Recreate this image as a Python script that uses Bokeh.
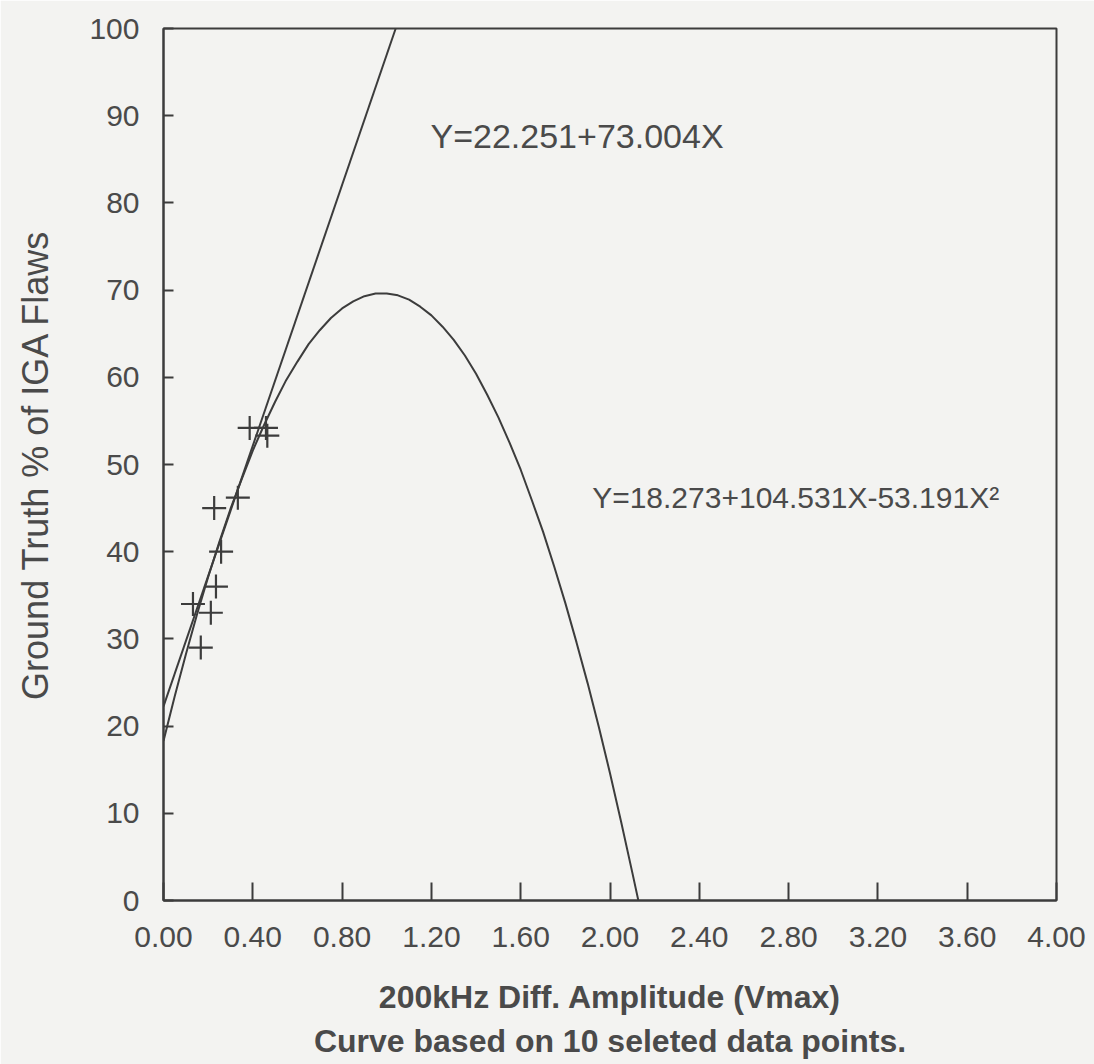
from bokeh.plotting import figure
from bokeh.models import Range1d, FixedTicker, Label, Title, NumeralTickFormatter
from bokeh.embed import file_html
from bokeh.resources import INLINE

# ---- data ----
pts_x = [0.386, 0.459, 0.465, 0.333, 0.227, 0.258, 0.235, 0.132, 0.212, 0.167]
pts_y = [54.2, 54.2, 53.3, 46.2, 45.0, 40.0, 36.0, 34.0, 33.0, 29.0]

lin_x = [0.0, 1.04]
lin_y = [22.25, 100.0]

quad_x = [0.0, 0.05, 0.1, 0.15, 0.2, 0.25, 0.3, 0.35, 0.4, 0.45, 0.5, 0.55,
          0.6, 0.65, 0.7, 0.75, 0.8, 0.85, 0.9, 0.95, 1.0, 1.05, 1.1, 1.15,
          1.2, 1.25, 1.3, 1.35, 1.4, 1.45, 1.5, 1.55, 1.6, 1.65, 1.7, 1.75,
          1.8, 1.85, 1.9, 1.95, 2.0, 2.05, 2.1, 2.127]
quad_y = [18.3, 23.4, 28.2, 32.8, 37.1, 41.1, 44.9, 48.3, 51.6, 54.5, 57.2, 59.7,
          61.8, 63.8, 65.4, 66.8, 67.9, 68.7, 69.3, 69.6, 69.6, 69.4, 68.9, 68.1,
          67.1, 65.8, 64.3, 62.5, 60.4, 58.0, 55.4, 52.5, 49.4, 45.9, 42.3, 38.3,
          34.1, 29.6, 24.9, 19.9, 14.6, 9.0, 3.2, 0.0]

x_ticks = [0.0, 0.4, 0.8, 1.2, 1.6, 2.0, 2.4, 2.8, 3.2, 3.6, 4.0]
y_ticks = [0, 10, 20, 30, 40, 50, 60, 70, 80, 90, 100]

eq_lin = "Y=22.251+73.004X"
eq_quad = "Y=18.273+104.531X-53.191X²"
x_title = "200kHz Diff. Amplitude (Vmax)"
x_title2 = "Curve based on 10 seleted data points."
y_title = "Ground Truth % of IGA Flaws"

FONT = "Liberation Sans"
INK = "#3c3c3c"
TXT = "#4a4a4a"
BG = "#f3f3f1"

p = figure(width=1094, height=1064, output_backend="svg", toolbar_location=None,
           x_range=Range1d(0, 4), y_range=Range1d(0, 100),
           min_border_left=163, min_border_right=38, min_border_top=28,
           min_border_bottom=164)
p.background_fill_color = BG
p.border_fill_color = BG
p.grid.visible = False
p.outline_line_color = INK
p.outline_line_width = 2

for ax in (p.xaxis[0], p.yaxis[0]):
    ax.axis_line_color = INK
    ax.axis_line_width = 2
    ax.major_tick_line_color = INK
    ax.major_tick_line_width = 2
    ax.minor_tick_line_color = None
    ax.major_tick_out = 0
    ax.major_label_text_font = FONT
    ax.major_label_text_font_size = "30px"
    ax.major_label_text_color = TXT
    ax.axis_label_text_font = FONT
    ax.axis_label_text_color = TXT
    ax.axis_label_text_font_style = "normal"

p.xaxis.ticker = FixedTicker(ticks=x_ticks)
p.xaxis.formatter = NumeralTickFormatter(format="0.00")
p.xaxis.major_tick_in = 18
p.xaxis.major_label_standoff = 26
p.xaxis.axis_label = x_title
p.xaxis.axis_label_text_font_size = "32px"
p.xaxis.axis_label_standoff = 29
p.xaxis.axis_label_text_font_style = "bold"

p.yaxis.ticker = FixedTicker(ticks=y_ticks)
p.yaxis.formatter = NumeralTickFormatter(format="0")
p.yaxis.major_tick_in = 10
p.yaxis.major_label_standoff = 24
p.yaxis.axis_label = y_title
p.yaxis.axis_label_text_font_size = "36px"
p.yaxis.axis_label_standoff = 30

# second caption line under the axis title
p.add_layout(Title(text=x_title2, align="center", text_font=FONT,
                   text_font_size="32px", text_font_style="bold",
                   text_color=TXT, standoff=6), "below")

p.line(lin_x, lin_y, line_color=INK, line_width=2)
p.line(quad_x, quad_y, line_color=INK, line_width=2)
p.scatter(pts_x, pts_y, marker="cross", size=24, line_color=INK, line_width=2.2)

p.add_layout(Label(x=1.196, y=87.7, text=eq_lin, text_font=FONT,
                   text_font_size="34px", text_color=TXT,
                   text_baseline="alphabetic"))
p.add_layout(Label(x=1.92, y=46.2, text=eq_quad, text_font=FONT,
                   text_font_size="30px", text_color=TXT,
                   text_baseline="alphabetic"))

open("out.html", "w").write(file_html(p, INLINE))
